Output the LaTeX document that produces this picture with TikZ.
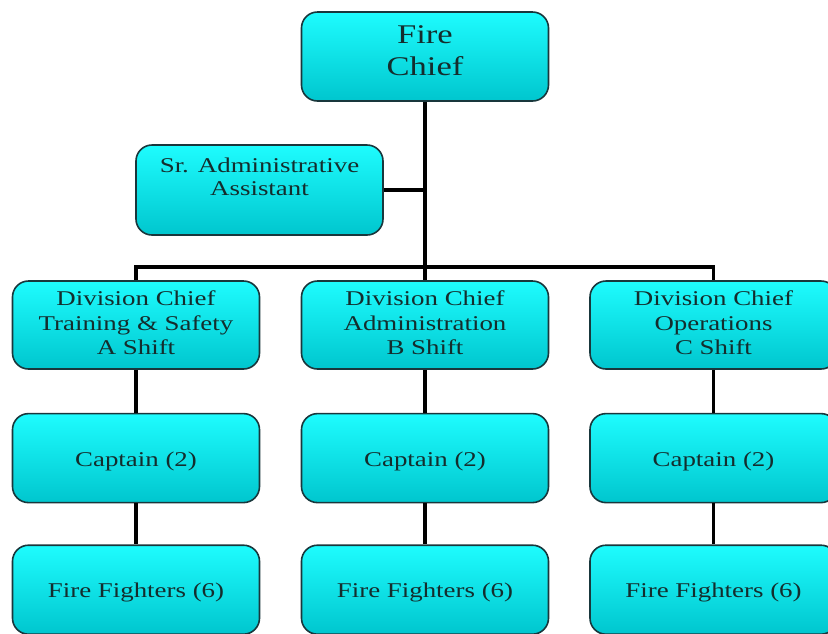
\documentclass[tikz,border=0pt]{standalone}
\usepackage{fontspec}
\setmainfont[FakeStretch=1.28]{Liberation Serif}
\usetikzlibrary{positioning}

\definecolor{cyantop}{RGB}{30,252,254}
\definecolor{cyanbot}{RGB}{0,198,206}
\definecolor{boxline}{RGB}{25,55,60}
\definecolor{boxtext}{RGB}{20,45,45}

\tikzset{
  box/.style={draw=boxline, line width=1.6pt, rounded corners=16pt,
    top color=cyantop, bottom color=cyanbot, minimum width=247pt,
    minimum height=89pt, align=center, text=boxtext,
    font=\fontsize{21}{24.5}\selectfont},
  onebox/.style={box, text height=20.5pt, text depth=4.5pt},
  link/.style={line width=3.8pt, black}
}

\begin{document}
\begin{tikzpicture}[x=1pt,y=-1pt]
    \useasboundingbox (0,0) rectangle (828,633);
    \clip (0,0) rectangle (828,633);
    \node[box, font=\fontsize{27}{32}\selectfont] (chief) at (425,56.5) {Fire\\Chief\\[-21pt]};
    \node[box, minimum height=90pt, font=\fontsize{21}{23}\selectfont] (admin) at (259.5,190) {Sr. Administrative\\Assistant\\[3pt]};
    % division chiefs
    \node[box, minimum height=88pt] (div1) at (136,325) {Division Chief\\Training \& Safety\\A Shift\\[-20pt]};
    \node[box, minimum height=88pt] (div2) at (425,325) {Division Chief\\Administration\\B Shift\\[-20pt]};
    \node[box, minimum height=88pt] (div3) at (713.5,325) {Division Chief\\Operations\\C Shift\\[-20pt]};
    % captains and fire fighters
    \node[onebox, below=43pt of div1] (capt1) {Captain (2)};
    \node[onebox, below=43pt of div2] (capt2) {Captain (2)};
    \node[onebox, below=43pt of div3] (capt3) {Captain (2)};
    \node[onebox, below=41pt of capt1] (ff1) {Fire Fighters (6)};
    \node[onebox, below=41pt of capt2] (ff2) {Fire Fighters (6)};
    \node[onebox, below=41pt of capt3] (ff3) {Fire Fighters (6)};
    \coordinate (bus) at (425,267);
    \draw[link] (chief.south) -- (div2.north);
    \draw[link] (admin.east) -- (admin.east -| chief.south);
    \draw[link] (div1.north) |- (bus) -| (div3.north);
    \foreach \i in {1,2,3} {
        \draw[link] (div\i.south) -- (capt\i.north);
        \draw[link] (capt\i.south) -- (ff\i.north);
    }
\end{tikzpicture}
\end{document}
